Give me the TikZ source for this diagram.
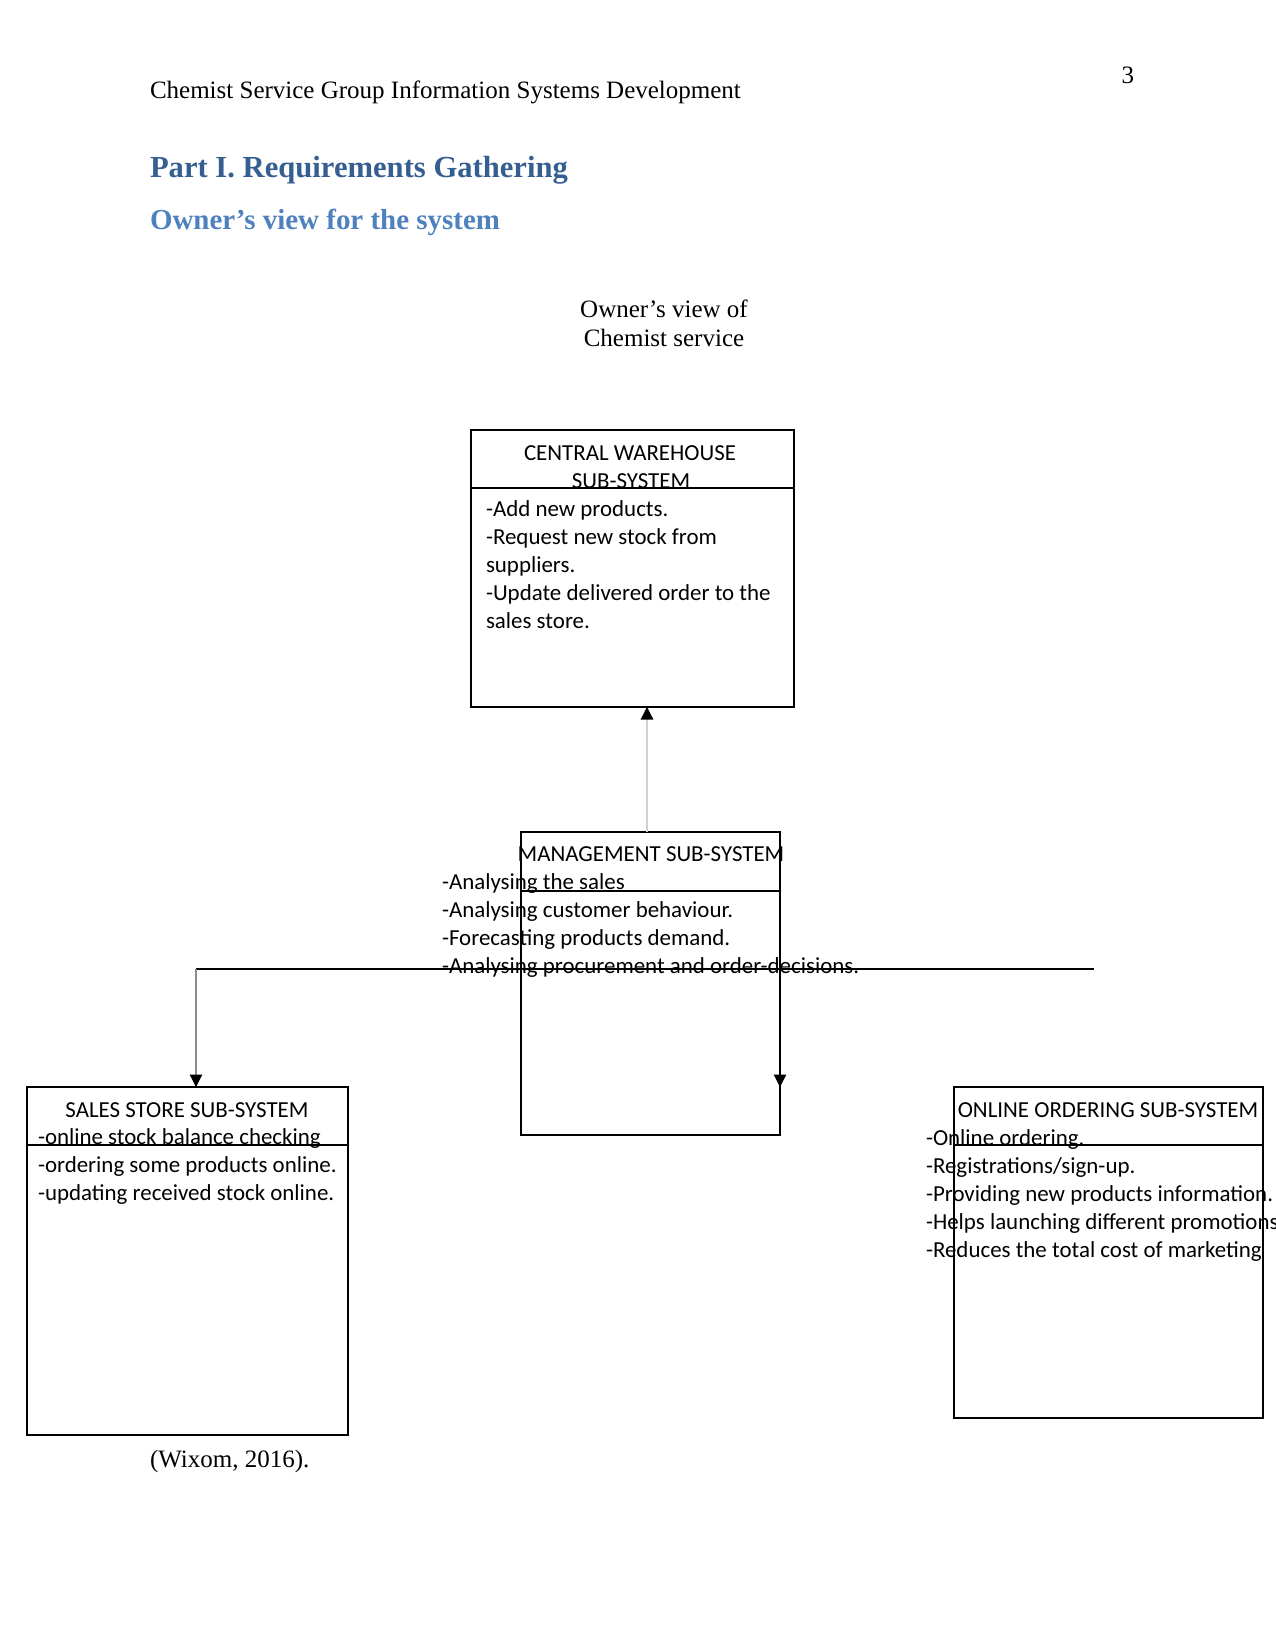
\documentclass[tikz,border=0pt]{standalone}
\usepackage{fontspec}
\setmainfont{Liberation Serif}
\newfontfamily\boxfont{Carlito}
\usetikzlibrary{arrows.meta}
\definecolor{hone}{HTML}{365F91}
\definecolor{htwo}{HTML}{4F81BD}
\begin{document}
\begin{tikzpicture}[x=0.48pt,y=-0.48pt,
  every node/.style={inner sep=0pt, outer sep=0pt},
  sysbox/.style={draw, line width=0.6pt, anchor=north west},
  btxt/.style={anchor=base west, font=\boxfont\fontsize{11}{13}\selectfont},
  ttl/.style={anchor=base, font=\boxfont\fontsize{11}{13}\selectfont},
  ptxt/.style={font=\fontsize{12}{14}\selectfont},
  conn/.style={line width=0.6pt},
  tip/.style={-{Triangle[width=6pt,length=6pt,color=black]}},
]
\useasboundingbox (0,0) rectangle (1275,1650);

% page texts
\node[ptxt, anchor=base west] (hdr) at (150,99) {Chemist Service Group Information Systems Development};
\node[ptxt, anchor=base east] (pg) at (1134,84) {3};
\node[anchor=base west, text=hone, font=\bfseries\fontsize{14.7}{17}\selectfont] (h1) at (150,178) {Part I. Requirements Gathering};
\node[anchor=base west, text=htwo, font=\bfseries\fontsize{13.9}{16}\selectfont] (h2) at (150,230) {Owner’s view for the system};
\node[ptxt, anchor=base] (cap1) at (664,318) {Owner’s view of};
\node[ptxt, anchor=base] (cap2) at (664,347) {Chemist service};
\node[ptxt, anchor=base west] (cite) at (150,1467) {(Wixom, 2016).};

% boxes
\node[sysbox, minimum width=155.04pt, minimum height=132.96pt] (cw) at (471,430) {};
\node[sysbox, minimum width=124.32pt, minimum height=145.44pt] (mgmt) at (521,832) {};
\node[sysbox, minimum width=154.08pt, minimum height=167.04pt] (sales) at (27,1087) {};
\node[sysbox, minimum width=148.32pt, minimum height=158.88pt] (online) at (954,1087) {};

% dividers
\draw[conn] (cw.west |- 0,488) -- (cw.east |- 0,488);
\draw[conn] (mgmt.west |- 0,891) -- (mgmt.east |- 0,891);
\draw[conn] (sales.west |- 0,1145) -- (sales.east |- 0,1145);
\draw[conn] (online.west |- 0,1145) -- (online.east |- 0,1145);

% central warehouse text
\node[ttl] (cwt1) at (630,461) {CENTRAL WAREHOUSE};
\node[ttl] (cwt2) at (631,488) {SUB-SYSTEM};
\node[btxt] (cw1) at (486,516) {-Add new products.};
\node[btxt] (cw2) at (486,544) {-Request new stock from};
\node[btxt] (cw3) at (486,572) {suppliers.};
\node[btxt] (cw4) at (486,600) {-Update delivered order to the};
\node[btxt] (cw5) at (486,628) {sales store.};

% management text
\node[ttl] (mt) at (651,861) {MANAGEMENT SUB-SYSTEM};
\node[btxt] (m1) at (442,889) {-Analysing the sales};
\node[btxt] (m2) at (442,917) {-Analysing customer behaviour.};
\node[btxt] (m3) at (442,945) {-Forecasting products demand.};
\node[btxt] (m4) at (442,973) {-Analysing procurement and order-decisions.};

% sales text
\node[ttl] (st) at (187,1117) {SALES STORE SUB-SYSTEM};
\node[btxt] (s1) at (38,1144) {-online stock balance checking};
\node[btxt] (s2) at (38,1172) {-ordering some products online.};
\node[btxt] (s3) at (38,1200) {-updating received stock online.};

% online text
\node[ttl] (ot) at (1108,1117) {ONLINE ORDERING SUB-SYSTEM};
\node[btxt] (o1) at (926,1145) {-Online ordering.};
\node[btxt] (o2) at (926,1173) {-Registrations/sign-up.};
\node[btxt] (o3) at (926,1201) {-Providing new products information.};
\node[btxt] (o4) at (926,1229) {-Helps launching different promotions};
\node[btxt] (o5) at (926,1257) {-Reduces the total cost of marketing};

% connectors
\coordinate (jL) at (196,969);
\coordinate (jM) at (780,969);
\coordinate (jR) at (1094,969);
\coordinate (mArr) at (780,1087);
\draw[conn] (jL) -- (jR);
\draw[conn, draw=black!45, tip] (jL) -- (jL |- sales.north);
\draw[conn, tip] (jM) -- (mArr);
\draw[conn, draw=black!18, tip] (mgmt.north -| 647,0) -- (cw.south -| 647,0);
\end{tikzpicture}
\end{document}
